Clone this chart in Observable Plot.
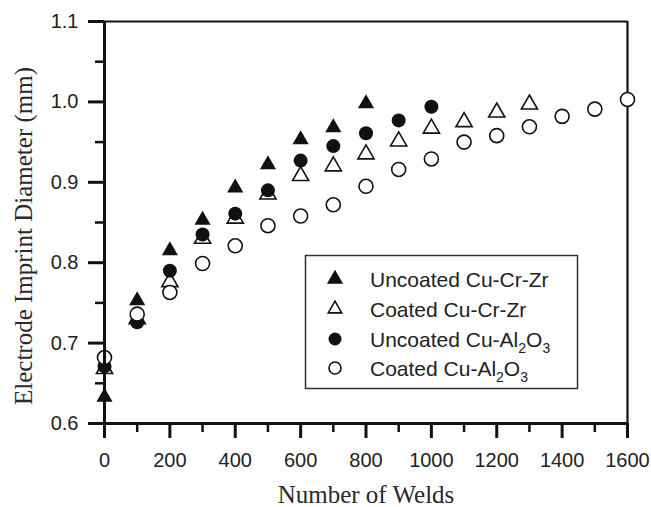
<!DOCTYPE html>
<html><head><meta charset="utf-8">
<script src="https://cdn.jsdelivr.net/npm/d3@7"></script>
<script src="https://cdn.jsdelivr.net/npm/@observablehq/plot@0.6"></script>
<style>
body{margin:0;background:#fff;}
#chart{width:651px;height:507px;}
</style>
</head><body><div id="chart"></div>
<script>
// Data
const weldsA = [0, 100, 200, 300, 400, 500, 600, 700, 800];
const uncoatedCuCrZr = [0.633, 0.753, 0.815, 0.853, 0.893, 0.922, 0.953, 0.968, 0.998];
const weldsB = [0, 100, 200, 300, 400, 500, 600, 700, 800, 900, 1000, 1100, 1200, 1300];
const coatedCuCrZr = [0.668, 0.730, 0.776, 0.830, 0.855, 0.885, 0.908, 0.920, 0.935, 0.951, 0.967, 0.975, 0.987, 0.997];
const weldsC = [0, 100, 200, 300, 400, 500, 600, 700, 800, 900, 1000];
const uncoatedCuAl2O3 = [0.671, 0.726, 0.790, 0.835, 0.861, 0.890, 0.927, 0.945, 0.961, 0.977, 0.994];
const weldsD = [0, 100, 200, 300, 400, 500, 600, 700, 800, 900, 1000, 1100, 1200, 1300, 1400, 1500, 1600];
const coatedCuAl2O3 = [0.682, 0.736, 0.763, 0.799, 0.821, 0.846, 0.858, 0.872, 0.895, 0.916, 0.929, 0.950, 0.958, 0.969, 0.982, 0.991, 1.003];

const xMajor = [0, 200, 400, 600, 800, 1000, 1200, 1400, 1600];
const xMinor = [100, 300, 500, 700, 900, 1100, 1300, 1500];
const yMajor = [0.6, 0.7, 0.8, 0.9, 1.0, 1.1];
const yMinor = [0.65, 0.75, 0.85, 0.95, 1.05];

const seriesNames = ["Uncoated Cu-Cr-Zr", "Coated Cu-Cr-Zr", "Uncoated Cu-Al2O3", "Coated Cu-Al2O3"];
const xTitle = "Number of Welds";
const yTitle = "Electrode Imprint Diameter (mm)";

const toRows = (xs, ys) => xs.map((x, i) => ({x, y: ys[i]}));
const ink = "#111";
const sans = "'Liberation Sans', Arial, sans-serif";
const serif = "'Liberation Serif', 'Times New Roman', serif";

const plot = Plot.plot({
  width: 651,
  height: 507,
  marginLeft: 104,
  marginRight: 24,
  marginTop: 21,
  marginBottom: 84,
  style: {fontFamily: sans, background: "#fff", color: "#222"},
  x: {domain: [0, 1600]},
  y: {domain: [0.6, 1.1]},
  marks: [
    Plot.ruleY([1.1], {stroke: ink, strokeWidth: 2.2}),
    Plot.ruleX([1600], {stroke: ink, strokeWidth: 2.2}),
    Plot.dot(toRows(weldsA, uncoatedCuCrZr), {x: "x", y: "y", symbol: "triangle", r: 6, fill: ink, stroke: "none"}),
    Plot.dot(toRows(weldsB, coatedCuCrZr), {x: "x", y: "y", symbol: "triangle", r: 6, fill: "white", stroke: ink, strokeWidth: 1.6}),
    Plot.dot(toRows(weldsC, uncoatedCuAl2O3), {x: "x", y: "y", symbol: "circle", r: 7, fill: ink, stroke: "none"}),
    Plot.dot(toRows(weldsD, coatedCuAl2O3), {x: "x", y: "y", symbol: "circle", r: 7, fill: "white", stroke: ink, strokeWidth: 1.6}),
    Plot.axisX({ticks: xMajor, tickSize: 15, tickPadding: 14, strokeWidth: 3, fontSize: 20, tickFormat: d => String(d), label: null, stroke: ink}),
    Plot.axisX({ticks: xMinor, tickSize: 9, strokeWidth: 2.5, tickFormat: () => "", label: null, stroke: ink}),
    Plot.axisY({ticks: yMajor, tickSize: 16, tickPadding: 10, strokeWidth: 3, fontSize: 20, tickFormat: d3.format(".1f"), label: null, stroke: ink}),
    Plot.axisY({ticks: yMinor, tickSize: 9, strokeWidth: 2.5, tickFormat: () => "", label: null, stroke: ink}),
    Plot.ruleX([0], {stroke: ink, strokeWidth: 3}),
    Plot.ruleY([0.6], {stroke: ink, strokeWidth: 3})
  ]
});
document.getElementById("chart").appendChild(plot);

const svg = d3.select(plot);
// Axis titles
svg.append("text")
  .attr("x", 366).attr("y", 503)
  .attr("text-anchor", "middle")
  .attr("font-family", serif).attr("font-size", 25).attr("fill", "#2a2a2a")
  .text(xTitle);
svg.append("text")
  .attr("transform", "translate(32,236) rotate(-90)")
  .attr("text-anchor", "middle")
  .attr("font-family", serif).attr("font-size", 25).attr("fill", "#2a2a2a")
  .text(yTitle);

// Legend
const lg = svg.append("g").attr("text-anchor", "start");
lg.append("rect").attr("x", 305.5).attr("y", 255.5).attr("width", 272).attr("height", 133)
  .attr("fill", "white").attr("stroke", "#333").attr("stroke-width", 1.5);
const legendSymbols = [
  {sym: d3.symbolTriangle, r: 6, fill: ink, stroke: "none"},
  {sym: d3.symbolTriangle, r: 5, fill: "white", stroke: ink},
  {sym: d3.symbolCircle, r: 6.5, fill: ink, stroke: "none"},
  {sym: d3.symbolCircle, r: 6, fill: "white", stroke: ink}
];
const baselines = [286.5, 316.5, 346.5, 375.5];
seriesNames.forEach((name, i) => {
  const s = legendSymbols[i];
  lg.append("path")
    .attr("d", d3.symbol(s.sym, s.r * s.r * Math.PI)())
    .attr("transform", `translate(335,${baselines[i] - 7.5})`)
    .attr("fill", s.fill).attr("stroke", s.stroke).attr("stroke-width", 1.6);
  const t = lg.append("text").attr("x", 370).attr("y", baselines[i])
    .attr("text-anchor", "start")
    .attr("font-family", sans).attr("font-size", 21).attr("fill", "#222");
  const m = name.match(/^(.*Al)2O3$/);
  if (m) {
    t.append("tspan").text(m[1]);
    t.append("tspan").attr("dy", 6).attr("font-size", 14).text("2");
    t.append("tspan").attr("dy", -6).text("O");
    t.append("tspan").attr("dy", 6).attr("font-size", 14).text("3");
  } else {
    t.text(name);
  }
});
</script>
</body></html>
